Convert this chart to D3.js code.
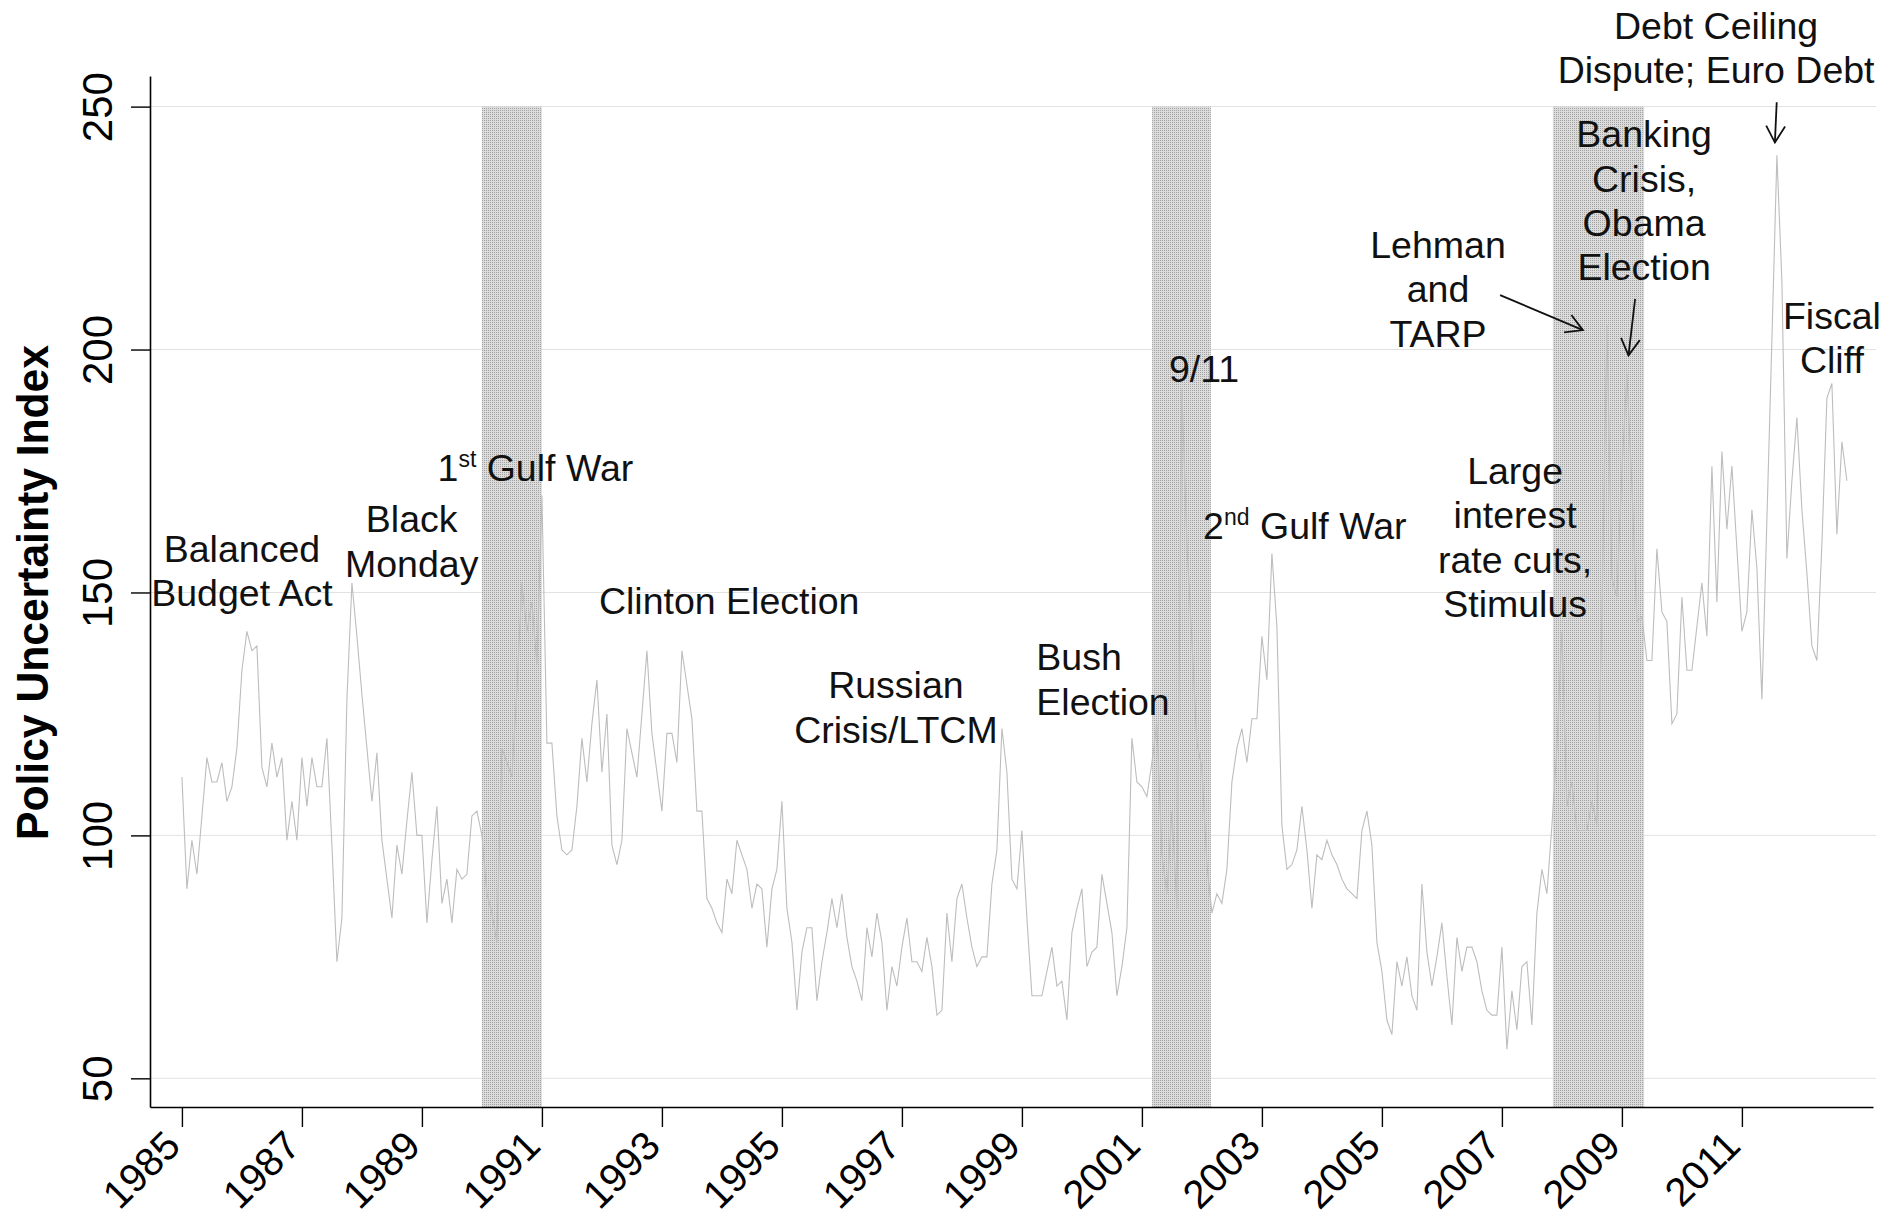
<!DOCTYPE html>
<html>
<head>
<meta charset="utf-8">
<script src="https://cdn.jsdelivr.net/npm/d3@7"></script>
<style>
  html, body { margin: 0; padding: 0; background: #ffffff; }
  svg { display: block; }
</style>
</head>
<body>
<svg id="chart" width="1900" height="1219"></svg>
<script>
// ---------------- DATA ----------------
const startYear = 1985;            // first month = January 1985, monthly series
const monthlyIndex = [
  // 1985
  112, 89, 99, 92, 104, 116, 111, 111, 115, 107, 110, 118,
  // 1986
  134, 142, 138, 139, 114, 110, 119, 112, 116, 99, 107, 99,
  // 1987
  116, 106, 116, 110, 110, 120, 98, 74, 83, 128, 152, 141,
  // 1988
  129, 118, 107, 117, 99, 91, 83, 98, 92, 103, 113, 100,
  // 1989
  100, 82, 95, 106, 86, 91, 82, 93, 91, 92, 104, 105,
  // 1990
  100, 88, 84, 78, 118, 115, 112, 130, 152, 142, 148, 135,
  // 1991
  170, 119, 119, 104, 97, 96, 97, 106, 120, 111, 123, 132,
  // 1992
  113, 125, 98, 94, 99, 122, 117, 112, 125, 138, 121, 113,
  // 1993
  105, 121, 121, 115, 138, 131, 124, 105, 105, 87, 85, 82,
  // 1994
  80, 91, 88, 99, 96, 93, 85, 90, 89, 77, 89, 93,
  // 1995
  107, 85, 78, 64, 76, 81, 81, 66, 74, 80, 87, 81,
  // 1996
  88, 79, 73, 70, 66, 81, 75, 84, 78, 64, 73, 69,
  // 1997
  77, 83, 74, 74, 72, 79, 73, 63, 64, 84, 74, 87,
  // 1998
  90, 83, 77, 73, 75, 75, 90, 97, 122, 113, 91, 89,
  // 1999
  101, 83, 67, 67, 67, 72, 77, 69, 70, 62, 80, 85,
  // 2000
  89, 73, 76, 77, 92, 86, 80, 67, 73, 81, 120, 111,
  // 2001
  110, 108, 115, 123, 96, 88, 105, 85, 192, 160, 140, 119,
  // 2002
  114, 94, 84, 88, 86, 93, 111, 118, 122, 115, 124, 124,
  // 2003
  141, 132, 158, 143, 102, 93, 94, 97, 106, 97, 85, 96,
  // 2004
  95, 99, 96, 94, 91, 89, 88, 87, 101, 105, 98, 78,
  // 2005
  72, 62, 59, 74, 69, 75, 67, 64, 90, 76, 69, 75,
  // 2006
  82, 71, 61, 79, 72, 77, 77, 74, 68, 64, 63, 63,
  // 2007
  77, 56, 68, 60, 73, 74, 61, 84, 93, 88, 102, 118,
  // 2008
  142, 106, 111, 101, 101, 101, 107, 102, 145, 205, 153, 149,
  // 2009
  175, 195, 172, 144, 145, 136, 136, 159, 146, 144, 123, 125,
  // 2010
  149, 134, 134, 143, 152, 141, 176, 148, 179, 163, 176, 159,
  // 2011
  142, 146, 167, 155, 128, 165, 202, 240, 214, 157, 173, 186,
  // 2012
  167, 154, 139, 136, 160, 190, 193, 162, 181, 173
];

// shaded recession periods [start, end] in decimal years
const recessionStarts = [1990.0, 2001.17, 2007.85];
const recessionEnds   = [1991.0, 2002.15, 2009.37];

const xTickYears  = [1985, 1987, 1989, 1991, 1993, 1995, 1997, 1999, 2001, 2003, 2005, 2007, 2009, 2011];
const yTickValues = [50, 100, 150, 200, 250];
const yAxisTitle  = "Policy Uncertainty Index";

// annotation texts (lines) and their anchor in data coordinates (decimal year, index value)
const annotationLines = [
  ["Balanced", "Budget Act"],
  ["Black", "Monday"],
  ["1|st| Gulf War"],
  ["Clinton Election"],
  ["Russian", "Crisis/LTCM"],
  ["Bush", "Election"],
  ["9/11"],
  ["2|nd| Gulf War"],
  ["Lehman", "and", "TARP"],
  ["Large", "interest", "rate cuts,", "Stimulus"],
  ["Banking", "Crisis,", "Obama", "Election"],
  ["Debt Ceiling", "Dispute; Euro Debt"],
  ["Fiscal", "Cliff"]
];
const annotationYear  = [1986.0, 1988.83, 1989.26, 1991.95, 1996.90, 1999.24, 2001.45, 2002.02, 2005.935, 2007.22, 2009.37, 2010.57, 2012.50];
const annotationValue = [156.3, 162.4, 172.9, 145.6, 128.2, 134.0, 193.3, 161.1, 218.8, 172.3, 241.6, 263.9, 204.2];
const annotationAlign = ["middle", "middle", "start", "start", "middle", "start", "start", "start", "middle", "middle", "middle", "middle", "middle"];

// arrows: from (year, value) to (year, value)
const arrowFromYear  = [2006.97, 2009.22, 2011.58];
const arrowFromValue = [211.2, 210.4, 250.9];
const arrowToYear    = [2008.35, 2009.11, 2011.55];
const arrowToValue   = [204.0, 198.8, 242.6];

// ---------------- LAYOUT ----------------
const plotLeft = 150, plotRight = 1873, plotTop = 76, plotBottom = 1107;
const fontFamily = "'Liberation Sans', Arial, Helvetica, sans-serif";

const svg = d3.select("#chart");

const x = d3.scaleLinear().domain([1984.468, 2013.185]).range([plotLeft, plotRight]);
const y = d3.scaleLinear().domain([44.1, 256.3]).range([plotBottom, plotTop]);

// pattern for recession shading
const defs = svg.append("defs");
const pat = defs.append("pattern")
  .attr("id", "stipple").attr("patternUnits", "userSpaceOnUse")
  .attr("width", 2).attr("height", 2);
pat.append("rect").attr("width", 2).attr("height", 2).attr("fill", "#dcdcdc");
pat.append("rect").attr("width", 1).attr("height", 1).attr("fill", "#a2a2a2");

// gridlines
svg.append("g").selectAll("line").data(yTickValues).join("line")
  .attr("x1", plotLeft).attr("x2", plotRight + 3)
  .attr("y1", d => y(d)).attr("y2", d => y(d))
  .attr("stroke", "#e2e2e2").attr("stroke-width", 1);

// recession bands
svg.append("g").selectAll("rect").data(recessionStarts).join("rect")
  .attr("x", d => x(d))
  .attr("width", (d, i) => x(recessionEnds[i]) - x(d))
  .attr("y", y(250))
  .attr("height", plotBottom - y(250))
  .attr("fill", "url(#stipple)");

// index line
const line = d3.line()
  .x((d, i) => x(startYear + i / 12))
  .y(d => y(d));
svg.append("path")
  .datum(monthlyIndex)
  .attr("d", line)
  .attr("fill", "none")
  .attr("stroke", "#bdbdbd")
  .attr("stroke-width", 1.1)
  .attr("stroke-linejoin", "miter");

// x axis
const xAxis = d3.axisBottom(x).tickValues(xTickYears).tickFormat(d3.format("d"))
  .tickSize(20).tickSizeOuter(0);
const gx = svg.append("g").attr("transform", `translate(0,${plotBottom})`).call(xAxis);
gx.select(".domain").attr("stroke", "#000").attr("stroke-width", 1.6);
gx.selectAll(".tick line").attr("stroke", "#000").attr("stroke-width", 1.4);
gx.selectAll(".tick text")
  .attr("x", 0).attr("y", 0).attr("dy", 0)
  .attr("text-anchor", "end")
  .attr("transform", "translate(0,41) rotate(-45)")
  .attr("font-family", fontFamily).attr("font-size", 40).attr("fill", "#000");

// y axis
const yAxis = d3.axisLeft(y).tickValues(yTickValues).tickFormat(d3.format("d"))
  .tickSize(19).tickSizeOuter(0);
const gy = svg.append("g").attr("transform", `translate(${plotLeft},0)`).call(yAxis);
gy.select(".domain").attr("stroke", "#000").attr("stroke-width", 1.6);
gy.selectAll(".tick line").attr("stroke", "#000").attr("stroke-width", 1.4);
gy.selectAll(".tick text")
  .attr("x", 0).attr("y", 0).attr("dy", 0)
  .attr("text-anchor", "middle")
  .attr("transform", "translate(-38,0) rotate(-90)")
  .attr("font-family", fontFamily).attr("font-size", 42).attr("fill", "#000");
svg.selectAll(".domain").attr("fill", "none");

// y axis title
svg.append("text")
  .attr("transform", `translate(48,${y(150)}) rotate(-90)`)
  .attr("text-anchor", "middle")
  .attr("font-family", fontFamily).attr("font-weight", "bold")
  .attr("font-size", 45)
  .attr("textLength", 495).attr("lengthAdjust", "spacingAndGlyphs")
  .attr("fill", "#000")
  .text(yAxisTitle);

// annotations
const lineStep = 44.3;
const ann = svg.append("g").attr("font-family", fontFamily).attr("font-size", 37.5).attr("fill", "#111");
annotationLines.forEach((lines, i) => {
  const t = ann.append("text")
    .attr("x", x(annotationYear[i]))
    .attr("y", y(annotationValue[i]))
    .attr("text-anchor", annotationAlign[i]);
  lines.forEach((ln, j) => {
    const parts = ln.split("|");
    if (parts.length === 3) {
      const row = t.append("tspan").attr("x", x(annotationYear[i])).attr("dy", j === 0 ? 0 : lineStep);
      row.append("tspan").text(parts[0]);
      row.append("tspan").attr("font-size", 23).attr("dy", -14).text(parts[1]);
      row.append("tspan").attr("dy", 14).text(parts[2]);
    } else {
      t.append("tspan").attr("x", x(annotationYear[i])).attr("dy", j === 0 ? 0 : lineStep).text(ln);
    }
  });
});

// arrows
const arrows = svg.append("g").attr("stroke", "#111").attr("stroke-width", 1.8).attr("fill", "none");
arrowFromYear.forEach((fy, i) => {
  const x1 = x(fy), y1 = y(arrowFromValue[i]);
  const x2 = x(arrowToYear[i]), y2 = y(arrowToValue[i]);
  arrows.append("line").attr("x1", x1).attr("y1", y1).attr("x2", x2).attr("y2", y2);
  const ang = Math.atan2(y2 - y1, x2 - x1);
  const hl = 19, spread = 0.52;
  const pts = [
    [x2 - hl * Math.cos(ang - spread), y2 - hl * Math.sin(ang - spread)],
    [x2, y2],
    [x2 - hl * Math.cos(ang + spread), y2 - hl * Math.sin(ang + spread)]
  ];
  arrows.append("path").attr("d", d3.line()(pts));
});
</script>
</body>
</html>
